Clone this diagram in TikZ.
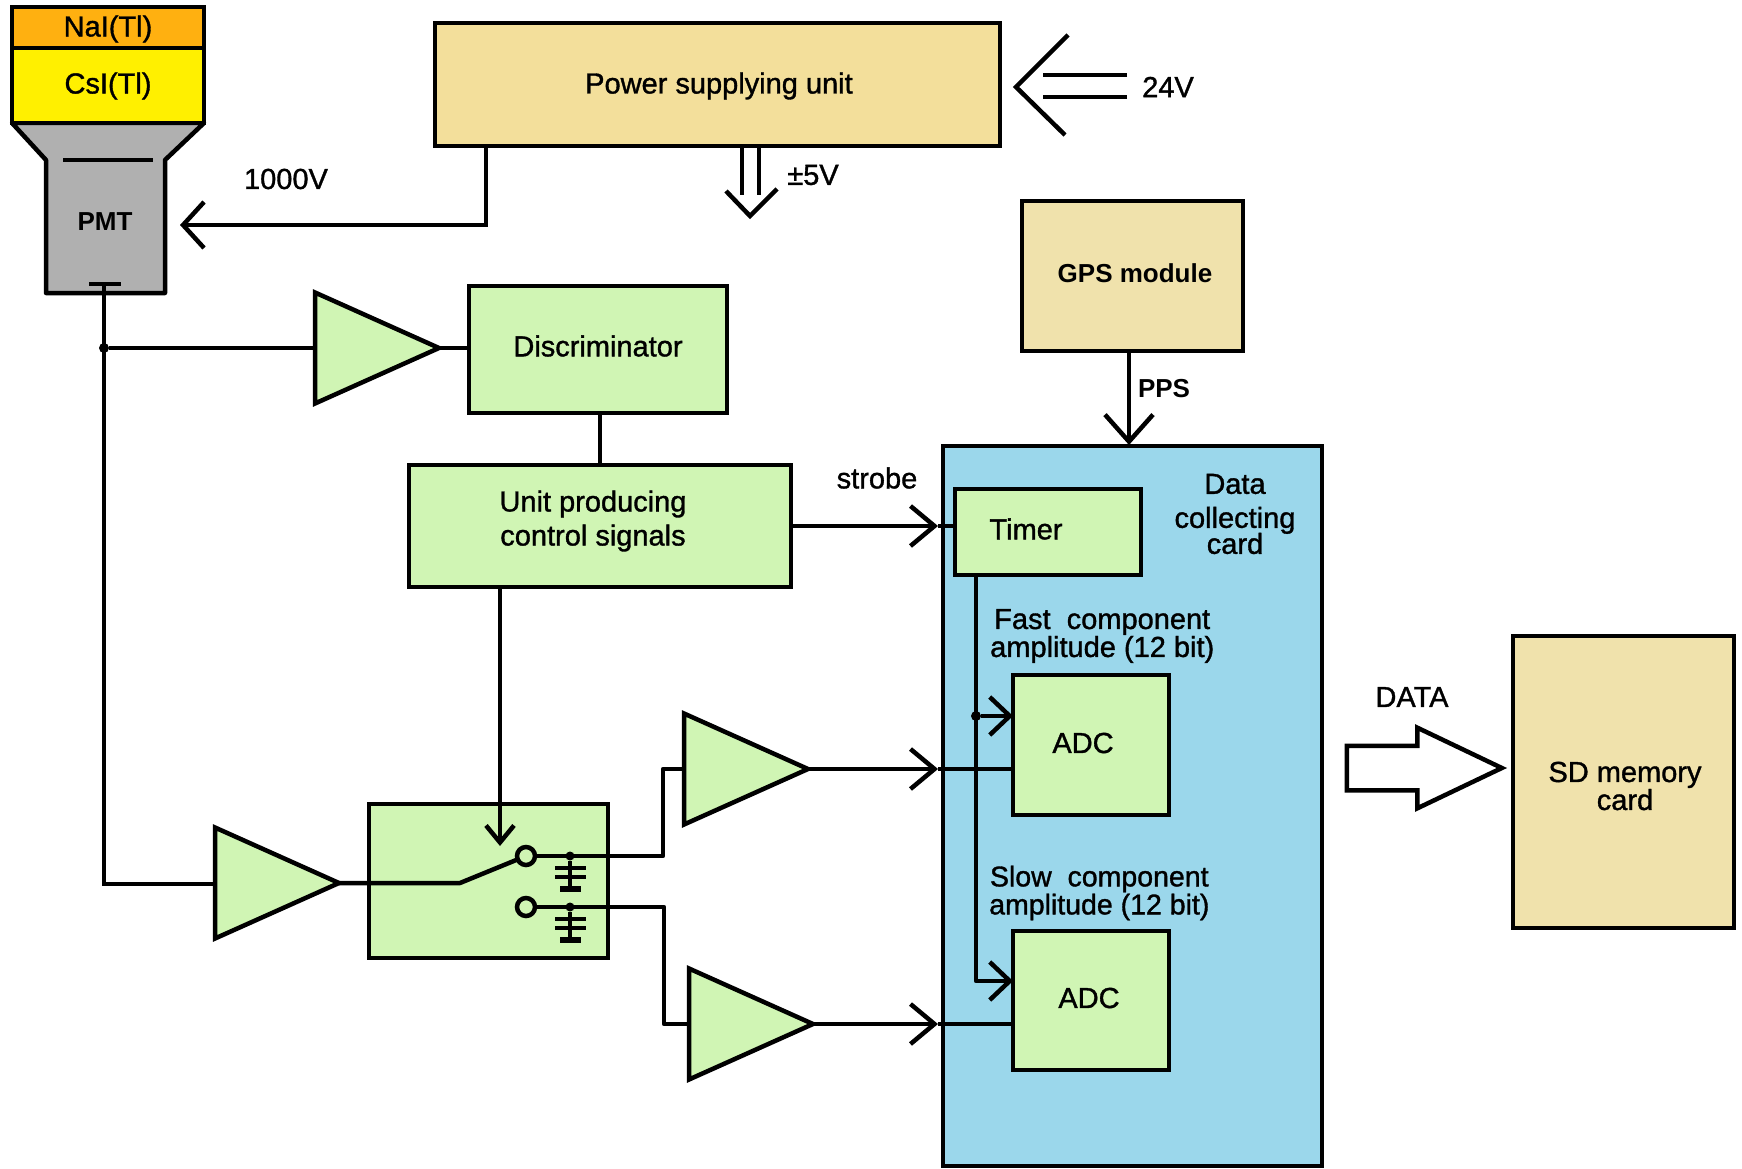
\documentclass[tikz,border=0pt]{standalone}
\usepackage{fontspec}
\setmainfont{Liberation Sans}
\newfontfamily\thickfont{Liberation Sans}[FakeBold=1.2]
\usetikzlibrary{arrows.meta,shapes.geometric,shapes.arrows}
\definecolor{naicol}{RGB}{255,176,16}
\definecolor{csicol}{RGB}{255,240,0}
\definecolor{pmtcol}{RGB}{176,176,176}
\definecolor{sand}{RGB}{243,223,155}
\definecolor{pale sand}{RGB}{240,226,172}
\definecolor{mint}{RGB}{208,245,180}
\definecolor{sky}{RGB}{155,215,235}
\tikzset{
  >={Straight Barb[length=24pt,width=40pt]},
  box/.style={draw=black,fill=#1,line width=4.5pt,inner sep=0pt,outer sep=0pt,anchor=north west,align=center},
  box/.default=mint,
  lbl/.style={font=\thickfont\fontsize{29}{28}\selectfont,align=center,inner sep=0pt},
  bold lbl/.style={font=\fontsize{26}{28}\selectfont\bfseries,align=center,inner sep=0pt},
  amp/.style={draw=black,fill=mint,line width=4.5pt,isosceles triangle,isosceles triangle stretches,
    shape border rotate=0,inner sep=0pt,outer sep=0pt,minimum height=124pt,minimum width=111pt,anchor=lower side},
  flow/.style={->,line width=4.5pt},
  small flow/.style={-{Straight Barb[length=17pt,width=28pt]},line width=4.5pt},
  adc flow/.style={-{Straight Barb[length=20pt,width=38pt]},line width=4.5pt},
  wire/.style={line width=4.5pt},
  dot/.style={circle,fill=black,inner sep=0pt,outer sep=0pt,minimum size=10pt},
  contact/.style={circle,draw=black,fill=mint,line width=4.5pt,inner sep=0pt,outer sep=0pt,minimum size=18pt},
  plate/.style={line width=4.5pt},
}
\begin{document}
\begin{tikzpicture}[x=1pt,y=-1pt,font=\thickfont\fontsize{29}{28}\selectfont]
  \useasboundingbox (0,0) rectangle (1742,1169);
  % detector
  \draw[fill=pmtcol,line width=4.5pt,line join=round] (12,123) -- (46,160) -- (46,293) -- (165,293) -- (165,160) -- (204,123) -- cycle;
  \node[box=naicol,minimum width=192pt,minimum height=41pt] (nai) at (12,7) {};
  \node[lbl] (naitxt) at (108,29) {NaI(Tl)};
  \node[box=csicol,minimum width=192pt,minimum height=75pt] (csi) at (12,48) {};
  \node[lbl] (csitxt) at (108,86) {CsI(Tl)};
  \draw[wire] (63,160) -- (153,160);
  \draw[wire] (89,284) -- (121,284);
  \node[bold lbl] (pmt) at (105,222) {PMT};
  \coordinate (anode) at (104,284);
  \coordinate (pmtin) at (180,225);
  % supply and gps
  \node[box=sand,minimum width=565pt,minimum height=123pt] (psu) at (435,23) {};
  \node[lbl] (psutxt) at (719,86) {Power supplying unit};
  \coordinate (psuout) at (486,146);
  \draw[-{Straight Barb[length=21pt,width=46pt]},line width=4.5pt] (psuout) |- (pmtin);
  \node[lbl] (hv) at (286,179) {1000V};
  \coordinate (fiveA) at (742,146);
  \coordinate (fiveB) at (759,146);
  \coordinate (fiveC) at (742,195);
  \coordinate (fiveD) at (759,195);
  \draw[wire] (fiveA) -- (fiveC) (fiveB) -- (fiveD);
  \draw[wire] (726,191) -- (750,216) -- (777,189);
  \node[lbl] (five) at (813,175) {±5V};
  \coordinate (inA) at (1127,75);
  \coordinate (inB) at (1127,97);
  \draw[wire] (inA) -- (1043,75) (inB) -- (1043,97);
  \draw[wire] (1068,35) -- (1016,87) -- (1065,135);
  \node[lbl] (volt) at (1168,87) {24V};
  \node[box=pale sand,minimum width=221pt,minimum height=150pt] (gps) at (1022,201) {};
  \node[bold lbl] (gpstxt) at (1135,273) {GPS module};
  % data card
  \node[box=sky,minimum width=379pt,minimum height=720pt] (card) at (943,446) {};
  \node[lbl] (cardtxt) at (1235,514) {Data\\[6pt]collecting\\[-2pt]card};
  \node[box,minimum width=186pt,minimum height=86pt] (timer) at (955,489) {};
  \node[lbl] (timertxt) at (1026,529) {Timer};
  \node[box,minimum width=156pt,minimum height=140pt] (adcA) at (1013,675) {};
  \node[lbl] (adcAtxt) at (1083,743) {ADC};
  \node[box,minimum width=156pt,minimum height=139pt] (adcB) at (1013,931) {};
  \node[lbl] (adcBtxt) at (1089,998) {ADC};
  \node[lbl,anchor=west] (fast) at (990,636) {Fast\ \ component\\amplitude (12 bit)};
  \node[lbl,anchor=west,font=\thickfont\fontsize{28.5}{28}\selectfont] (slow) at (989,893) {Slow\ \ component\\amplitude (12 bit)};
  \draw[-{Straight Barb[length=27pt,width=48pt]},line width=4.5pt] (gps.south -| 1129,0) -- (1129,445) coordinate (pps);
  \node[bold lbl] (ppstxt) at (1164,389) {PPS};
  % discriminator branch
  \node[amp] (ampA) at (315,348) {};
  \node[box,minimum width=258pt,minimum height=127pt] (disc) at (469,286) {};
  \node[lbl] (disctxt) at (598,346) {Discriminator};
  \node[box,minimum width=382pt,minimum height=122pt] (ctrl) at (409,465) {};
  \node[lbl] (ctrltxt) at (593,521) {Unit producing\\[6pt]control signals};
  \draw[wire] (disc.south -| 600,0) -- (ctrl.north -| 600,0);
  \draw[wire] (anode) -- (104,884) -- (215,884);
  \node[dot] (tapA) at (104,348) {};
  \draw[wire] (tapA) -- (ampA.lower side);
  \draw[wire] (ampA.apex) -- (disc.west |- ampA.apex);
  \draw[flow] (ctrl.east |- 0,526) -- (938,526) coordinate (cardin);
  \draw[wire] (cardin) -- (timer.west |- cardin);
  \node[lbl] (strobe) at (877,478) {strobe};
  % switch
  \node[amp] (ampB) at (215,883) {};
  \node[box,minimum width=239pt,minimum height=154pt] (sw) at (369,804) {};
  \node[contact] (conA) at (526,856) {};
  \node[contact] (conB) at (526,907) {};
  \coordinate (knee) at (460,883);
  \draw[wire,line join=round] (ampB.apex) -- (knee) -- (conA);
  \draw[small flow] (ctrl.south -| 500,0) -- (500,846);
  % capacitors
  \foreach \y/\n in {856/capA,907/capB}{
    \node[dot,minimum size=9pt] (\n) at (570,\y) {};
    \draw[wire] (\n) -- (570,\y+32);
    \draw[plate] (555,\y+12) -- (586,\y+12) (555,\y+21) -- (586,\y+21);
    \draw[line width=6pt] (560,\y+33) -- (581,\y+33);
  }
  % amplitude channels
  \node[amp] (ampC) at (684,769) {};
  \node[amp] (ampD) at (689,1024) {};
  \draw[wire,line join=round] (conA) -- (663,856) -- (663,769) -- (ampC.lower side);
  \draw[wire,line join=round] (conB) -- (664,907) -- (664,1024) -- (ampD.lower side);
  \draw[flow] (ampC.apex) -- (938,769) coordinate (chanA);
  \draw[flow] (ampD.apex) -- (938,1024) coordinate (chanB);
  \draw[wire] (chanA) -- (adcA.west |- chanA);
  \draw[wire] (chanB) -- (adcB.west |- chanB);
  \draw[adc flow,line join=round] (timer.south -| 976,0) -- (976,981) -- (adcB.west |- 0,981);
  \node[dot] (tapB) at (976,716) {};
  \draw[adc flow] (tapB) -- (adcA.west |- tapB);
  % output
  \node[box=pale sand,minimum width=221pt,minimum height=292pt] (sd) at (1513,636) {};
  \node[lbl] (sdtxt) at (1625,786) {SD memory\\card};
  \node[draw=black,fill=white,line width=4.5pt,single arrow,single arrow head extend=18pt,single arrow tip angle=51,
    inner xsep=0pt,inner ysep=20pt,minimum height=155pt,minimum width=76pt] (dataarrow) at (1401,768) {};
  \node[lbl] (datatxt) at (1412,697) {DATA};
\end{tikzpicture}
\end{document}
